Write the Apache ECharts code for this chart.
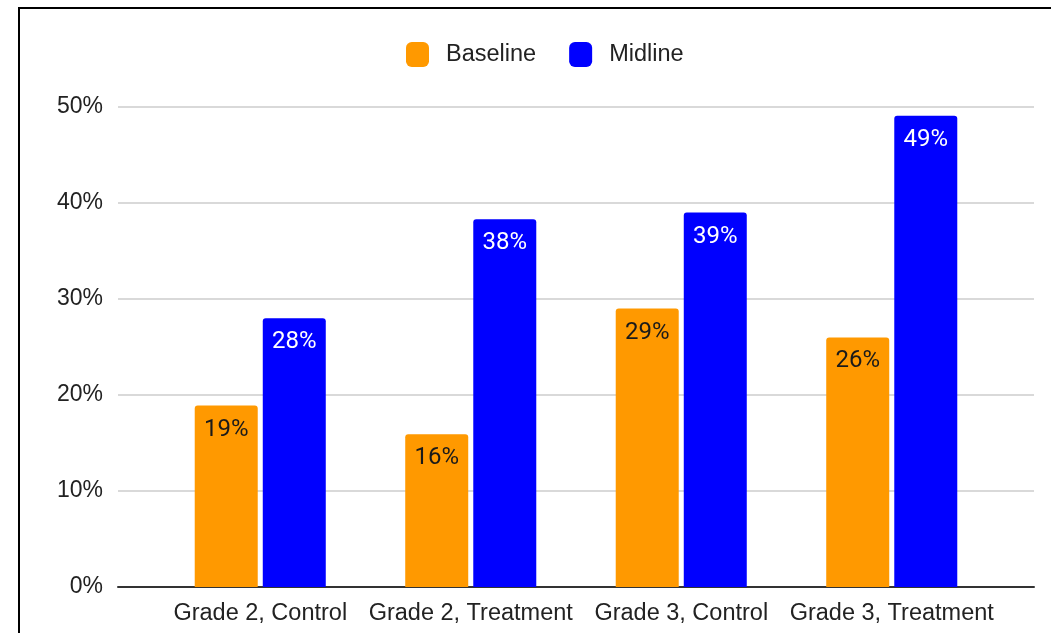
<!DOCTYPE html>
<html>
<head>
<meta charset="utf-8">
<script src="https://cdn.jsdelivr.net/npm/echarts@6/dist/echarts.min.js"></script>
<style>
html,body{margin:0;padding:0;background:#fff;}
#chart{width:1051px;height:633px;}
</style>
</head>
<body>
<div id="chart"></div>
<script>
const categories = ['Grade 2, Control', 'Grade 2, Treatment', 'Grade 3, Control', 'Grade 3, Treatment'];
const baseline = [0.189, 0.159, 0.290, 0.260];
const midline = [0.280, 0.383, 0.390, 0.491];
const seriesNames = ['Baseline', 'Midline'];
const yTicks = [0, 0.1, 0.2, 0.3, 0.4, 0.5];

const pct = v => Math.round(v * 100) + '%';
const chart = echarts.init(document.getElementById('chart'));
const labelFont = { fontFamily: 'Roboto', fontSize: 24 };

chart.setOption({
  animation: false,
  backgroundColor: '#fff',
  graphic: [{
    type: 'rect', silent: true, z: 100,
    shape: { x: 19, y: 8, width: 1100, height: 700 },
    style: { fill: 'none', stroke: '#000', lineWidth: 2 }
  }],
  legend: {
    left: 401, top: 37,
    itemWidth: 23, itemHeight: 25, itemGap: 33,
    icon: 'roundRect',
    data: seriesNames,
    textStyle: { fontFamily: 'Liberation Sans, Arial', fontSize: 23.5, color: '#222', padding: [0, 0, 0, 12] }
  },
  grid: [
    { left: 118, right: 17, top: 107, bottom: 46 },
    { left: 155, right: 54, top: 107, bottom: 46 }
  ],
  xAxis: [
    { gridIndex: 0, type: 'value', min: 0, max: 1, show: true,
      axisLine: { show: true, lineStyle: { color: '#333', width: 2 } },
      axisTick: { show: false }, axisLabel: { show: false }, splitLine: { show: false } },
    { gridIndex: 1, type: 'category', data: categories,
      axisLine: { show: false }, axisTick: { show: false },
      axisLabel: { interval: 0, fontFamily: 'Liberation Sans, Arial', fontSize: 23.5, color: '#222', margin: 15 } }
  ],
  yAxis: [
    { gridIndex: 0, type: 'value', min: yTicks[0], max: yTicks[yTicks.length - 1], interval: 0.1,
      axisLine: { show: false }, axisTick: { show: false },
      axisLabel: { formatter: v => pct(v), fontFamily: 'Liberation Sans, Arial', fontSize: 23, color: '#222', margin: 15 },
      splitLine: { lineStyle: { color: '#cccccc', width: 1.5 } } },
    { gridIndex: 1, type: 'value', min: yTicks[0], max: yTicks[yTicks.length - 1], interval: 0.1, show: false,
      splitLine: { show: false } }
  ],
  series: [
    { name: seriesNames[0], type: 'bar', xAxisIndex: 1, yAxisIndex: 1, data: baseline,
      barWidth: 63, barGap: '8%',
      itemStyle: { color: '#ff9900', borderRadius: [3, 3, 0, 0] },
      label: { show: true, position: 'insideTop', distance: 12, formatter: p => pct(p.value), color: '#1a1a1a', ...labelFont } },
    { name: seriesNames[1], type: 'bar', xAxisIndex: 1, yAxisIndex: 1, data: midline,
      barWidth: 63, barGap: '8%',
      itemStyle: { color: '#0000ff', borderRadius: [3, 3, 0, 0] },
      label: { show: true, position: 'insideTop', distance: 12, formatter: p => pct(p.value), color: '#ffffff', ...labelFont } }
  ]
});
</script>
</body>
</html>
